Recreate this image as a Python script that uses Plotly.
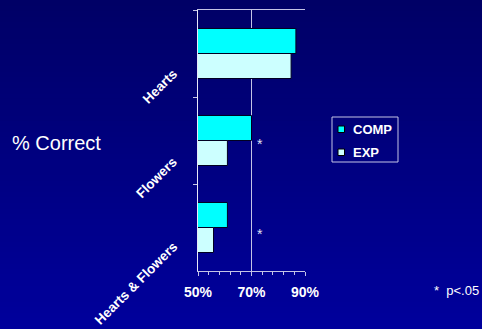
import plotly.graph_objects as go

categories = ["Hearts", "Flowers", "Hearts & Flowers"]
comp_values = [86.6, 70.0, 61.0]
exp_values = [84.8, 61.0, 55.8]
x_ticks = [50, 70, 90]
x_tick_labels = ["50%", "70%", "90%"]
series_names = ["COMP", "EXP"]
sig_categories = ["Flowers", "Hearts & Flowers"]

W, H = 482, 329
ML, MR, MT, MB = 198, 177, 10, 58
PW, PH = W - ML - MR, H - MT - MB

FONT = "Arial, 'Liberation Sans', Helvetica, sans-serif"
COMP_C = "#00ffff"
EXP_C = "#ccffff"
LINE_C = "#c4c4e6"
colors = [COMP_C, EXP_C]

fig = go.Figure()
for nm, vals, c in zip(series_names, [comp_values, exp_values], colors):
    fig.add_trace(go.Bar(y=categories, x=vals, orientation="h", name=nm,
                         marker=dict(color=c, line=dict(color="#000022", width=1)),
                         showlegend=False))

def px_x(px):
    return (px - ML) / PW

def px_y(py):
    return 1 - (py - MT) / PH

# gradient background
shapes = []
n = 60
for i in range(n):
    t = i / (n - 1)
    b = int(round(102 + (156 - 102) * t))
    y1 = px_y(H * i / n)
    y0 = px_y(H * (i + 1) / n)
    shapes.append(dict(type="rect", xref="paper", yref="paper", x0=px_x(0), x1=px_x(W),
                       y0=y0 - 0.003, y1=y1, fillcolor=f"rgb(0,0,{b})",
                       line=dict(width=0), layer="below"))

# legend (box, keys, labels)
shapes.append(dict(type="rect", xref="paper", yref="paper", x0=px_x(332), x1=px_x(398),
                   y0=px_y(162), y1=px_y(117), line=dict(color=LINE_C, width=1),
                   fillcolor="rgba(0,0,0,0)"))
annotations = []
for nm, c, cy in zip(series_names, colors, [129, 152]):
    shapes.append(dict(type="rect", xref="paper", yref="paper", x0=px_x(338), x1=px_x(344.5),
                       y0=px_y(cy + 3.5), y1=px_y(cy - 3), line=dict(color="#000000", width=1),
                       fillcolor=c))
    annotations.append(dict(text=f"<b>{nm}</b>", x=px_x(351), xref="paper", y=px_y(cy),
                            yref="paper", xanchor="left", yanchor="middle", showarrow=False,
                            font=dict(family=FONT, size=13, color="white")))
fig.update_layout(shapes=shapes)

# category labels
label_off = [-10, -11, -9]
for cat, off in zip(categories, label_off):
    annotations.append(dict(text=f"<b>{cat}</b>", x=px_x(183), xref="paper",
                            y=cat, yref="y", yshift=off, xanchor="right", yanchor="top",
                            textangle=-45, showarrow=False,
                            font=dict(family=FONT, size=13.5, color="white")))
# significance stars
for cat, ys in zip(sig_categories, [-3, -6]):
    annotations.append(dict(text="*", x=73, xref="x", y=cat, yref="y", yshift=ys,
                            xanchor="center", yanchor="middle", showarrow=False,
                            font=dict(family=FONT, size=14, color="#e0e0f4")))
annotations.append(dict(text="% Correct", x=px_x(10), xref="paper",
                        y=px_y(143), yref="paper", xanchor="left", yanchor="middle",
                        showarrow=False, font=dict(family=FONT, size=20, color="white")))
annotations.append(dict(text="*  p<.05", x=px_x(481), xref="paper",
                        y=px_y(290), yref="paper", xanchor="right", yanchor="middle",
                        showarrow=False, font=dict(family=FONT, size=13, color="white")))
fig.update_layout(annotations=annotations)

fig.update_layout(
    width=W, height=H,
    margin=dict(l=ML, r=MR, t=MT, b=MB, pad=0),
    paper_bgcolor="#000066",
    plot_bgcolor="rgba(0,0,0,0)",
    showlegend=False,
    barmode="group", bargap=0.425, bargroupgap=0,
    xaxis=dict(range=[50, 90], tickvals=x_ticks, ticktext=x_tick_labels,
               showgrid=True, gridcolor=LINE_C, gridwidth=1,
               showline=True, linecolor=LINE_C, linewidth=1, mirror=True,
               ticks="outside", ticklen=4, tickcolor=LINE_C, ticklabelstandoff=4,
               minor=dict(dtick=4, tick0=50, ticks="outside", ticklen=3, tickcolor=LINE_C, showgrid=False),
               tickfont=dict(family=FONT, size=14, color="white", weight="bold"),
               zeroline=False, fixedrange=True),
    yaxis=dict(range=[2.5, -0.5], showticklabels=False, showgrid=False,
               showline=True, linecolor="#e8e8f8", linewidth=1,
               ticks="outside", tickson="boundaries", ticklen=4, tickcolor=LINE_C,
               fixedrange=True),
)

fig.write_html("out.html", config={"displayModeBar": False})
